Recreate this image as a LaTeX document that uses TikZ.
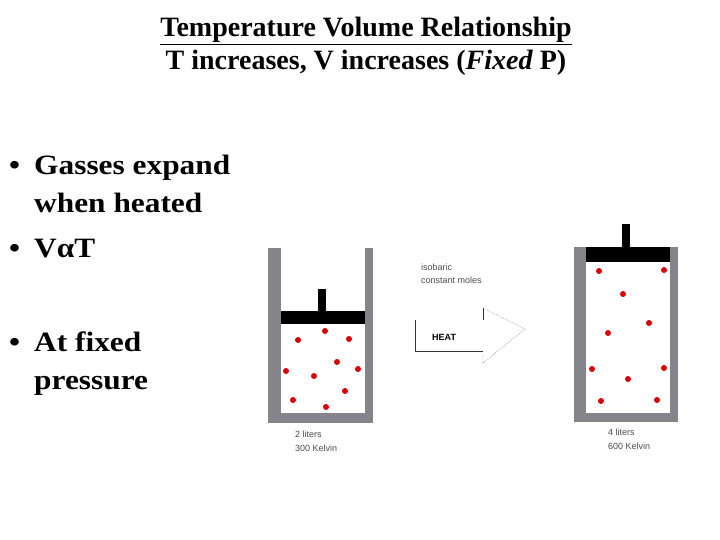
\documentclass[tikz,border=0pt]{standalone}
\usepackage{fontspec}
\setmainfont{Liberation Serif}
\newfontfamily\arial{Liberation Sans}
\definecolor{wallc}{RGB}{132,132,138}
\begin{document}
\begin{tikzpicture}[x=1pt,y=-1pt,
  wall/.style={fill=wallc},
  dot/.style={circle, fill=red!85!black, inner sep=0pt, minimum size=6pt},
  title/.style={font=\fontsize{28}{32}\selectfont\bfseries, anchor=base, inner sep=0pt},
  bul/.style={font=\fontsize{28}{32}\selectfont\bfseries, anchor=base west, inner sep=0pt, xscale=1.12, transform shape},
  small/.style={font=\arial\fontsize{9}{10}\selectfont, text=black!70, anchor=base west, inner sep=0pt}]
\useasboundingbox (0,0) rectangle (720,540);
% titles
\node[title] (t1) at (366,37) {\underline{Temperature Volume Relationship}};
\node[title] (t2) at (366,70) {T increases, V increases (\textit{Fixed} P)};
% bullets
\node[bul] (b1) at (9,175) {\textbullet};
\node[bul] (l1) at (34,175) {Gasses expand};
\node[bul] (l2) at (34,213) {when heated};
\node[bul] (b2) at (9,258) {\textbullet};
\node[bul] (l3) at (34,258) {VαT};
\node[bul] (b3) at (9,351) {\textbullet};
\node[bul] (l4) at (34,351) {At fixed};
\node[bul] (l5) at (34,389) {pressure};
% left cylinder
\fill[wall] (268,248) rectangle (373,423);
\fill[white] (281,248) rectangle (365,413);
\fill[black] (281,311) rectangle (365,324);
\fill[black] (318,289) rectangle (326,311);
\foreach \p in {(325,331),(298,340),(349,339),(337,362),(286,371),(314,376),(358,369),(345,391),(293,400),(326,407)}
  \node[dot] at \p {};
\node[small] (c1) at (295,437) {2 liters};
\node[small] (c2) at (295,451) {300 Kelvin};
% right cylinder
\fill[wall] (574,247) rectangle (678,422);
\fill[white] (586,247) rectangle (670,413);
\fill[black] (586,247) rectangle (670,262);
\fill[black] (622,224) rectangle (630,247);
\foreach \p in {(599,271),(664,270),(623,294),(649,323),(608,333),(592,369),(664,368),(628,379),(601,401),(657,400)}
  \node[dot] at \p {};
\node[small] (d1) at (608,435) {4 liters};
\node[small] (d2) at (608,449) {600 Kelvin};
% arrow
\coordinate (a1) at (415,320);
\coordinate (a2) at (415,351);
\coordinate (a3) at (483,351);
\coordinate (a4) at (483,363);
\coordinate (a5) at (525,329);
\coordinate (a6) at (483,308);
\coordinate (a7) at (483,320);
\draw[black!80] (a1) -- (a2) -- (a3);
\draw[black!70, densely dotted] (a3) -- (a4) -- (a5) -- (a6);
\draw[black!80] (a6) -- (a7);
\node[small] (h) at (432,340) {\bfseries\color{black}HEAT};
\node[small] (i1) at (421,270) {isobaric};
\node[small] (i2) at (421,283) {constant moles};
\end{tikzpicture}
\end{document}
